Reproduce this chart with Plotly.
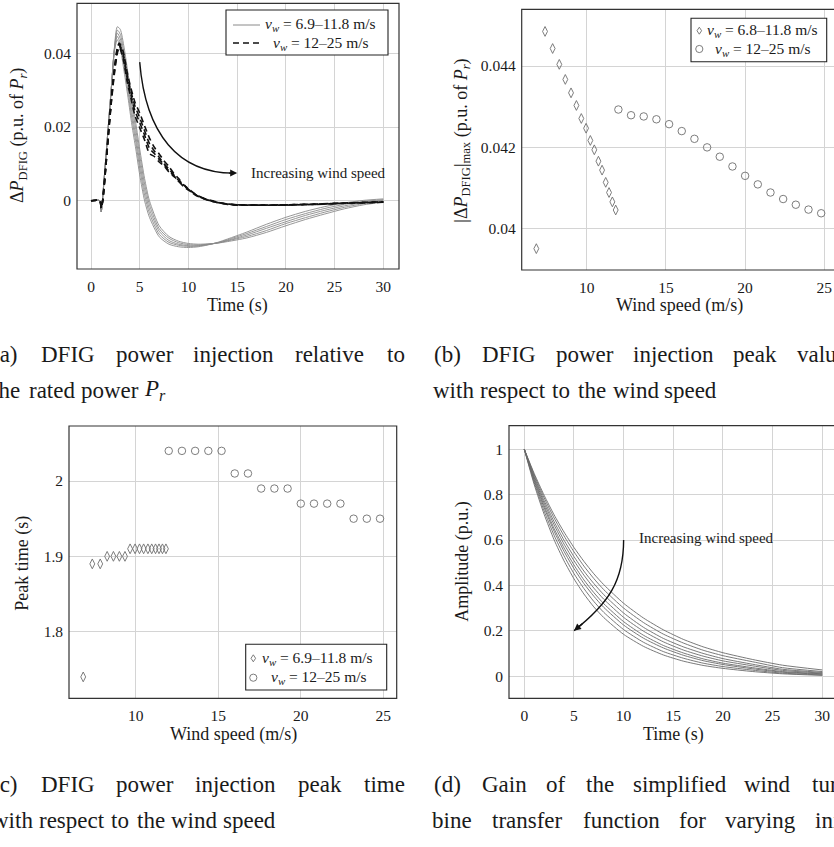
import plotly.graph_objects as go

W, H = 834, 847
def px(x): return x / W
def py(y): return 1 - y / H

FONT = "Liberation Serif"
GRID = "#d4d4d4"
TXT = "#1a1a1a"
MK = "#6e6e6e"

# ---------------- Panel (a) data ----------------
t_solid = [0, 0.9, 1.05, 1.2, 1.5, 1.8, 2.1, 2.4, 2.7, 3.0, 3.4, 3.8, 4.2, 4.6, 5.0, 5.5, 6.0,
           7, 8, 9, 10, 11, 12, 13, 14, 16, 18, 20, 22, 24, 26, 28, 30]
dp_solid_A = [0, 0, -0.003, 0.001, 0.011, 0.021, 0.031, 0.0415, 0.0472, 0.0465, 0.0415, 0.0345, 0.0275, 0.0210, 0.0140, 0.0060, 0.0000,
              -0.0068, -0.0097, -0.0110, -0.0116, -0.0118, -0.0117, -0.0115, -0.0111, -0.0101, -0.0086, -0.0068, -0.0051, -0.0036, -0.0022, -0.0011, -0.0004]
dp_solid_B = [0, 0, -0.003, 0.001, 0.011, 0.021, 0.031, 0.0412, 0.0463, 0.0452, 0.0399, 0.0329, 0.0258, 0.0193, 0.0123, 0.0045, -0.0011,
              -0.0076, -0.0102, -0.0114, -0.0119, -0.0120, -0.0118, -0.0115, -0.0109, -0.0097, -0.0081, -0.0062, -0.0046, -0.0031, -0.0018, -0.0008, -0.0002]
dp_solid_C = [0, 0, -0.003, 0.001, 0.011, 0.021, 0.031, 0.0410, 0.0455, 0.0440, 0.0383, 0.0313, 0.0240, 0.0175, 0.0105, 0.0030, -0.0023,
              -0.0083, -0.0108, -0.0118, -0.0122, -0.0122, -0.0119, -0.0114, -0.0108, -0.0093, -0.0075, -0.0057, -0.0040, -0.0026, -0.0014, -0.0005, 0.0001]
dp_solid_D = [0, 0, -0.003, 0.001, 0.011, 0.021, 0.031, 0.0408, 0.0446, 0.0428, 0.0366, 0.0296, 0.0223, 0.0158, 0.0088, 0.0015, -0.0034,
              -0.0091, -0.0113, -0.0121, -0.0124, -0.0123, -0.0119, -0.0114, -0.0106, -0.0089, -0.0070, -0.0051, -0.0035, -0.0021, -0.0010, -0.0002, 0.0003]
dp_solid_E = [0, 0, -0.003, 0.001, 0.011, 0.021, 0.031, 0.0405, 0.0437, 0.0415, 0.0350, 0.0280, 0.0205, 0.0140, 0.0070, 0.0000, -0.0045,
              -0.0098, -0.0118, -0.0125, -0.0127, -0.0125, -0.0120, -0.0113, -0.0104, -0.0085, -0.0064, -0.0045, -0.0029, -0.0016, -0.0006, 0.0001, 0.0005]

t_dash = [0, 0.9, 1.05, 1.2, 1.5, 1.8, 2.1, 2.4, 2.7, 2.9, 3.3, 3.7, 4.1, 4.5, 5.0, 5.5, 6.0, 6.5, 7.0, 7.5,
          8.0, 8.5, 9.0, 9.5, 10, 10.5, 11, 12, 13, 14, 15, 17, 20, 23, 26, 30]
dp_dash_1 = [0, 0, -0.002, 0.000, 0.009, 0.019, 0.028, 0.036, 0.0415, 0.0428, 0.0405, 0.0350, 0.0305, 0.0268, 0.0238, 0.0203, 0.0170, 0.0145, 0.0127, 0.0108,
             0.0093, 0.0074, 0.0060, 0.0043, 0.0033, 0.0021, 0.0013, 0.0002, -0.0005, -0.0009, -0.0011, -0.0012, -0.0012, -0.0010, -0.0007, -0.0004]
dp_dash_2 = [0, 0, -0.002, 0.000, 0.0088, 0.0187, 0.0277, 0.0355, 0.0410, 0.0424, 0.0398, 0.0342, 0.0296, 0.0258, 0.0225, 0.0190, 0.0155, 0.0135, 0.0118, 0.0100,
             0.0086, 0.0070, 0.0055, 0.0045, 0.0030, 0.0022, 0.0012, 0.0003, -0.0004, -0.0009, -0.0011, -0.0012, -0.0011, -0.0009, -0.0007, -0.0004]
dp_dash_3 = [0, 0, -0.002, 0.000, 0.0086, 0.0184, 0.0274, 0.0350, 0.0405, 0.0420, 0.0392, 0.0335, 0.0288, 0.0245, 0.0212, 0.0178, 0.0142, 0.0128, 0.0112, 0.0098,
             0.0080, 0.0068, 0.0052, 0.0040, 0.0031, 0.0019, 0.0011, 0.0002, -0.0005, -0.0009, -0.0011, -0.0012, -0.0012, -0.0010, -0.0007, -0.0003]
dp_dash_4 = [0, 0, -0.002, 0.000, 0.0084, 0.0181, 0.0270, 0.0345, 0.0400, 0.0416, 0.0385, 0.0325, 0.0278, 0.0232, 0.0198, 0.0165, 0.0128, 0.0120, 0.0105, 0.0094,
             0.0078, 0.0066, 0.0054, 0.0038, 0.0029, 0.0020, 0.0012, 0.0001, -0.0005, -0.0010, -0.0012, -0.0012, -0.0011, -0.0009, -0.0006, -0.0003]

# ---------------- Panel (b) data ----------------
ws_low = [6.82, 7.37, 7.85, 8.27, 8.65, 9.01, 9.35, 9.66, 9.96, 10.23, 10.48, 10.74, 10.97, 11.20, 11.41, 11.62, 11.83]
peak_low = [0.03951, 0.04485, 0.04443, 0.04404, 0.04367, 0.04334, 0.04303, 0.04271, 0.04247, 0.04217, 0.04194, 0.04166,
            0.04144, 0.04114, 0.04089, 0.04066, 0.04046]
ws_high = [12.0, 12.8, 13.6, 14.4, 15.2, 16.0, 16.8, 17.6, 18.4, 19.2, 20.0, 20.8, 21.6, 22.4, 23.2, 24.0, 24.8]
peak_high = [0.04293, 0.04279, 0.04276, 0.04269, 0.04257, 0.04240, 0.04221, 0.04200, 0.04177, 0.04153, 0.04130, 0.04109,
             0.04089, 0.04073, 0.04059, 0.04047, 0.04038]

# ---------------- Panel (c) data ----------------
tpk_low = [1.74, 1.89, 1.89, 1.90, 1.90, 1.90, 1.90, 1.91, 1.91, 1.91, 1.91, 1.91, 1.91, 1.91, 1.91, 1.91, 1.91]
tpk_high = [2.04, 2.04, 2.04, 2.04, 2.04, 2.01, 2.01, 1.99, 1.99, 1.99, 1.97, 1.97, 1.97, 1.97, 1.95, 1.95, 1.95]

# ---------------- Panel (d) data ----------------
t_gain = [0, 1, 2, 3, 4, 5, 6, 7, 8, 10, 12, 14, 16, 18, 20, 23, 26, 30]
gain_curves = [
    [1, 0.844, 0.713, 0.601, 0.508, 0.429, 0.362, 0.305, 0.258, 0.184, 0.131, 0.093, 0.066, 0.047, 0.034, 0.020, 0.010, 0.003],
    [1, 0.853, 0.728, 0.621, 0.530, 0.452, 0.386, 0.329, 0.281, 0.205, 0.149, 0.108, 0.079, 0.057, 0.042, 0.026, 0.013, 0.005],
    [1, 0.861, 0.742, 0.639, 0.550, 0.474, 0.408, 0.352, 0.303, 0.225, 0.167, 0.124, 0.092, 0.068, 0.051, 0.032, 0.017, 0.008],
    [1, 0.867, 0.752, 0.651, 0.565, 0.490, 0.424, 0.368, 0.319, 0.240, 0.180, 0.135, 0.102, 0.076, 0.057, 0.037, 0.020, 0.010],
    [1, 0.874, 0.763, 0.667, 0.582, 0.509, 0.445, 0.388, 0.339, 0.259, 0.198, 0.151, 0.115, 0.088, 0.067, 0.045, 0.025, 0.013],
    [1, 0.880, 0.774, 0.681, 0.599, 0.527, 0.463, 0.408, 0.359, 0.278, 0.215, 0.166, 0.129, 0.100, 0.077, 0.052, 0.030, 0.016],
    [1, 0.887, 0.786, 0.697, 0.618, 0.548, 0.485, 0.430, 0.381, 0.300, 0.236, 0.185, 0.146, 0.114, 0.090, 0.063, 0.037, 0.020],
    [1, 0.893, 0.797, 0.711, 0.635, 0.567, 0.506, 0.451, 0.403, 0.321, 0.256, 0.204, 0.162, 0.129, 0.103, 0.073, 0.048, 0.027],
]

lbl_low_a = "<i>v<sub>w</sub></i> = 6.9–11.8 m/s"
lbl_high = "<i>v<sub>w</sub></i> = 12–25 m/s"
lbl_low_b = "<i>v<sub>w</sub></i> = 6.8–11.8 m/s"

cap_a1 = ["(a)", "DFIG", "power", "injection", "relative", "to"]
cap_a2 = ["the", "rated", "power", "<i>P<sub>r</sub></i>"]
cap_b1 = ["(b)", "DFIG", "power", "injection", "peak", "value"]
cap_b2 = ["with", "respect", "to", "the", "wind", "speed"]
cap_c1 = ["(c)", "DFIG", "power", "injection", "peak", "time"]
cap_c2 = ["with", "respect", "to", "the", "wind", "speed"]
cap_d1 = ["(d)", "Gain", "of", "the", "simplified", "wind", "tur-"]
cap_d2 = ["bine", "transfer", "function", "for", "varying", "ini-"]

fig = go.Figure()

solid_list = [dp_solid_A, dp_solid_B, dp_solid_C, dp_solid_D, dp_solid_E]
for ys in solid_list:
    fig.add_trace(go.Scatter(x=t_solid, y=ys, mode="lines", xaxis="x", yaxis="y", showlegend=False,
                             line=dict(color="#8a8a8a", width=0.9, shape="spline", smoothing=0.7)))
dash_list = [dp_dash_1, dp_dash_2, dp_dash_3, dp_dash_4]
for ys in dash_list:
    fig.add_trace(go.Scatter(x=t_dash, y=ys, mode="lines", xaxis="x", yaxis="y", showlegend=False,
                             line=dict(color="#111111", width=1.6, dash="6px,4px", shape="spline", smoothing=0.7)))

mk_d = dict(symbol="diamond-tall-open", size=7, color=MK, line=dict(width=0.9))
mk_c = dict(symbol="circle-open", size=7.5, color=MK, line=dict(width=0.9))
fig.add_trace(go.Scatter(x=ws_low, y=peak_low, mode="markers", xaxis="x2", yaxis="y2", marker=mk_d, showlegend=False))
fig.add_trace(go.Scatter(x=ws_high, y=peak_high, mode="markers", xaxis="x2", yaxis="y2", marker=mk_c, showlegend=False))
fig.add_trace(go.Scatter(x=ws_low, y=tpk_low, mode="markers", xaxis="x3", yaxis="y3", marker=mk_d, showlegend=False))
fig.add_trace(go.Scatter(x=ws_high, y=tpk_high, mode="markers", xaxis="x3", yaxis="y3", marker=mk_c, showlegend=False))

for g in gain_curves:
    fig.add_trace(go.Scatter(x=t_gain, y=g, mode="lines", xaxis="x4", yaxis="y4", showlegend=False,
                             line=dict(color="#6a6a6a", width=0.9, shape="spline", smoothing=0.6)))

tickfont = dict(family=FONT, size=15.5, color=TXT)

def xax(domain, rng, tickvals, anchor):
    return dict(domain=domain, range=rng, tickvals=tickvals, ticktext=[str(v) for v in tickvals],
                anchor=anchor, showgrid=True, gridcolor=GRID, gridwidth=1, zeroline=False, showline=False,
                ticks="", tickfont=tickfont, ticklabelstandoff=6, fixedrange=True)

def yax(domain, rng, tickvals, ticktext, anchor):
    return dict(domain=domain, range=rng, tickvals=tickvals, ticktext=ticktext,
                anchor=anchor, showgrid=True, gridcolor=GRID, gridwidth=1, zeroline=False, showline=False,
                ticks="", tickfont=tickfont, ticklabelstandoff=5, fixedrange=True)

# plot boxes (pixels): x0, x1, y0(top), y1(bottom)
A = (77, 399, 3.3, 269)
B = (521.7, 845, 9.3, 270)
C = (69, 396.7, 426, 698.3)
D = (509, 838, 425.7, 698.3)

fig.update_layout(
    xaxis=xax([px(A[0]), px(A[1])], [-1.437, 31.61], [0, 5, 10, 15, 20, 25, 30], "y"),
    yaxis=yax([py(A[3]), py(A[2])], [-0.01853, 0.05357], [0, 0.02, 0.04], ["0", "0.02", "0.04"], "x"),
    xaxis2=xax([px(B[0]), 1.0], [5.897, 25.61], [10, 15, 20, 25], "y2"),
    yaxis2=yax([py(B[3]), py(B[2])], [0.038985, 0.045394], [0.04, 0.042, 0.044], ["0.04", "0.042", "0.044"], "x2"),
    xaxis3=xax([px(C[0]), px(C[1])], [5.959, 25.81], [10, 15, 20, 25], "y3"),
    yaxis3=yax([py(C[3]), py(C[2])], [1.7116, 2.073], [1.8, 1.9, 2.0], ["1.8", "1.9", "2"], "x3"),
    xaxis4=xax([px(D[0]), 1.0], [-1.54, 31.18], [0, 5, 10, 15, 20, 25, 30], "y4"),
    yaxis4=yax([py(D[3]), py(D[2])], [-0.098, 1.104], [0, 0.2, 0.4, 0.6, 0.8, 1.0], ["0", "0.2", "0.4", "0.6", "0.8", "1"], "x4"),
)

shapes = []
def prect(x0, x1, y0, y1, color="#333", width=1.2):
    return dict(type="rect", xref="paper", yref="paper", x0=px(x0), x1=px(x1), y0=py(y1), y1=py(y0),
                line=dict(color=color, width=width), fillcolor="rgba(0,0,0,0)", layer="above")

for (x0, x1, y0, y1) in (A, B, C, D):
    shapes.append(prect(x0, x1, y0, y1))

# curved arrows
shapes.append(dict(type="path", xref="x", yref="y", path="M 5,0.0376 C 5.6,0.018 9,0.0075 14.6,0.0075",
                   line=dict(color="#111", width=1.4)))
shapes.append(dict(type="path", xref="x4", yref="y4", path="M 10,0.6 C 10,0.42 8.5,0.32 5,0.2",
                   line=dict(color="#111", width=1.4)))

# ---- hand-built legends (boxes, samples) ----
LEG_BOXES = [(226, 388, 10, 55), (691, 826.7, 18.3, 61.7), (245.7, 386.7, 644.3, 690)]
for (x0, x1, y0, y1) in LEG_BOXES:
    s = prect(x0, x1, y0, y1, color="#222", width=1.1)
    s["fillcolor"] = "white"
    shapes.append(s)

def pline(x0, x1, y, color, width, dash="solid"):
    return dict(type="line", xref="paper", yref="paper", x0=px(x0), x1=px(x1), y0=py(y), y1=py(y),
                line=dict(color=color, width=width, dash=dash), layer="above")

shapes.append(pline(233, 260, 25, "#8a8a8a", 1.0))
shapes.append(pline(233, 260, 43, "#111", 1.6, "6px,4px"))

def pdiamond(cx, cy, hw=2.3, hh=3.5):
    path = "M {:.5f},{:.5f} L {:.5f},{:.5f} L {:.5f},{:.5f} L {:.5f},{:.5f} Z".format(
        px(cx), py(cy - hh), px(cx + hw), py(cy), px(cx), py(cy + hh), px(cx - hw), py(cy))
    return dict(type="path", xref="paper", yref="paper", path=path, line=dict(color=MK, width=0.9), layer="above")

def pcircle(cx, cy, r=3.6):
    return dict(type="circle", xref="paper", yref="paper", x0=px(cx - r), x1=px(cx + r), y0=py(cy + r), y1=py(cy - r),
                line=dict(color=MK, width=0.9), layer="above")

shapes.append(pdiamond(699.3, 30.7))
shapes.append(pcircle(699.3, 49))
shapes.append(pdiamond(253.3, 658.3))
shapes.append(pcircle(253.3, 677.7))
fig.update_layout(shapes=shapes)

ann = []
ann.append(dict(xref="x", yref="y", x=15, y=0.0075, axref="x", ayref="y", ax=14.0, ay=0.0075, text="",
                showarrow=True, arrowhead=2, arrowsize=1, arrowwidth=1.4, arrowcolor="#111", standoff=0))
ann.append(dict(xref="x4", yref="y4", x=5, y=0.2, axref="x4", ayref="y4", ax=5.99, ay=0.2355, text="",
                showarrow=True, arrowhead=2, arrowsize=1, arrowwidth=1.4, arrowcolor="#111", standoff=0))
ann.append(dict(xref="x", yref="y", x=16.2, y=0.0075, text="Increasing wind speed", showarrow=False,
                xanchor="left", yanchor="middle", font=dict(family=FONT, size=15, color=TXT)))
ann.append(dict(xref="x4", yref="y4", x=11.3, y=0.607, text="Increasing wind speed", showarrow=False,
                xanchor="left", yanchor="middle", font=dict(family=FONT, size=15, color=TXT)))

tfont = dict(family=FONT, size=18, color=TXT)
def ptext(x, y, text, angle=0, font=tfont, xanchor="center"):
    return dict(xref="paper", yref="paper", x=px(x), y=py(y), text=text, showarrow=False,
                textangle=angle, xanchor=xanchor, yanchor="middle", font=font)

ann.append(ptext(19, 136, "Δ<i>P</i><sub>DFIG</sub> (p.u. of <i>P<sub>r</sub></i>)", -90))
ann.append(ptext(237, 305, "Time (s)"))
ann.append(ptext(461.7, 141, "|Δ<i>P</i><sub>DFIG</sub>|<sub>max</sub> (p.u. of <i>P<sub>r</sub></i>)", -90))
ann.append(ptext(679, 305, "Wind speed (m/s)"))
ann.append(ptext(21.7, 563, "Peak time (s)", -90))
ann.append(ptext(233, 734, "Wind speed (m/s)"))
ann.append(ptext(461.7, 562, "Amplitude (p.u.)", -90))
ann.append(ptext(673, 734, "Time (s)"))

# legend texts
lfont = dict(family=FONT, size=15.5, color=TXT)
ann.append(ptext(320.5, 25, lbl_low_a, font=lfont))
ann.append(ptext(320.5, 43, lbl_high, font=lfont))
ann.append(ptext(762, 30.7, lbl_low_b, font=lfont))
ann.append(ptext(762.5, 49, lbl_high, font=lfont))
ann.append(ptext(317.7, 658.3, lbl_low_a, font=lfont))
ann.append(ptext(318.8, 677.7, lbl_high, font=lfont))

# captions: words placed on a justified line (Computer Modern word widths)
CMW = {'(': .389, ')': .389, 'a': .5, 'b': .556, 'c': .444, 'd': .556, 'e': .444, 'f': .306, 'g': .5, 'h': .556,
       'i': .278, 'j': .306, 'k': .528, 'l': .278, 'm': .833, 'n': .556, 'o': .5, 'p': .556, 'r': .392, 's': .394,
       't': .389, 'u': .556, 'v': .528, 'w': .722, 'y': .528, 'D': .764, 'F': .653, 'I': .361, 'G': .785, '-': .333}
CAP_PX = 21.0
def wwidth(w):
    if w.startswith("<i>P"):
        return 0.96 * CAP_PX
    return sum(CMW.get(ch, 0.5) for ch in w) * CAP_PX

cfont = dict(family=FONT, size=23, color=TXT)
def caption(words, x0, y, x1=None):
    ws = [wwidth(w) for w in words]
    if x1 is None:
        gap = 0.333 * CAP_PX
    else:
        gap = (x1 - x0 - sum(ws)) / (len(words) - 1)
    x = x0
    out = []
    for w, wd in zip(words, ws):
        out.append(ptext(x + wd / 2, y, w, font=cfont))
        x += wd + gap
    return out

L0, L1 = -8.2, 405
R0, R1 = 433, 846.2
ann += caption(cap_a1, L0, 354, L1)
ann += caption(cap_a2, L0, 390)
ann += caption(cap_b1, R0, 354, R1)
ann += caption(cap_b2, R0, 390)
ann += caption(cap_c1, L0, 784, L1)
ann += caption(cap_c2, L0, 820)
ann += caption(cap_d1, R0, 784, R1)
ann += caption(cap_d2, R0, 820, R1)
fig.update_layout(annotations=ann)

fig.update_layout(width=W, height=H, autosize=False, margin=dict(l=0, r=0, t=0, b=0),
                  paper_bgcolor="white", plot_bgcolor="white", showlegend=False,
                  font=dict(family=FONT, color=TXT))

fig.write_html("out.html", config={"displayModeBar": False, "staticPlot": True},
               post_script="document.body.style.margin='0px';")
